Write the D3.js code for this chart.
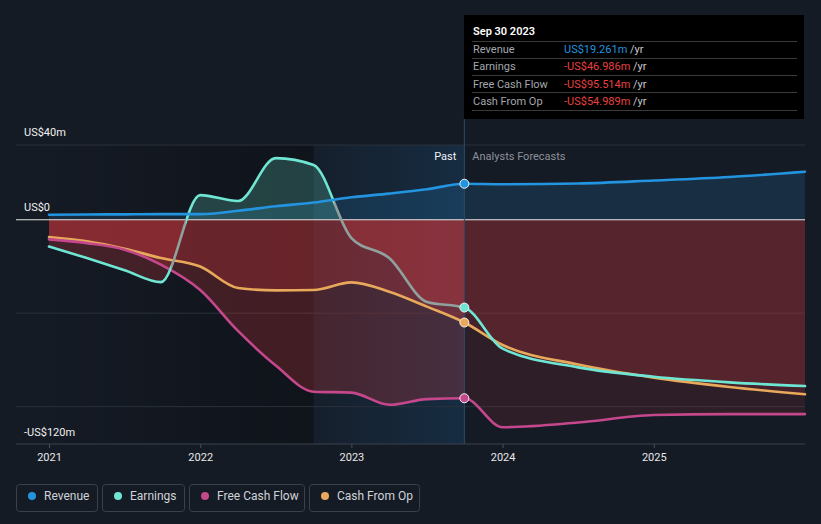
<!DOCTYPE html>
<html>
<head>
<meta charset="utf-8">
<script src="https://cdn.jsdelivr.net/npm/d3@7"></script>
<style>
  html, body { margin: 0; padding: 0; background: #151b25; }
  svg { display: block; font-family: Roboto, "Noto Sans", sans-serif; }
</style>
</head>
<body>
<svg id="chart" width="821" height="524"></svg>
<script>
// ---------- data (US$ millions) ----------
const pastDates = [2021.0, 2021.25, 2021.5, 2021.74, 2022.0, 2022.25, 2022.5, 2022.75, 2023.0, 2023.25, 2023.5, 2023.747];
const forecastDates = [2023.747, 2024.0, 2024.5, 2025.0, 2025.5, 2026.0];

const revenuePast = [2.7, 2.8, 2.9, 3.0, 3.0, 4.8, 7.2, 9.2, 12.0, 14.0, 16.3, 19.261];
const revenueForecast = [19.261, 19.0, 19.4, 21.0, 22.9, 25.7];

const earningsPast = [-14.3, -20.5, -27.0, -33.4, 13.2, 10.0, 33.0, 29.3, -9.8, -20.5, -44.0, -46.986];
const earningsForecast = [-46.986, -69.0, -79.0, -84.0, -87.0, -89.0];

const fcfPast = [-10.5, -12.5, -16.0, -24.0, -37.6, -59.5, -78.0, -92.0, -92.5, -99.0, -96.0, -95.514];
const fcfForecast = [-95.514, -111.0, -108.5, -104.5, -104.0, -104.0];

const cfoPast = [-9.2, -11.5, -15.5, -20.5, -25.0, -36.5, -37.8, -37.6, -33.5, -38.5, -46.5, -54.989];
const cfoForecast = [-54.989, -67.0, -77.5, -84.5, -89.5, -93.4];

const yearTicks = [2021, 2022, 2023, 2024, 2025];
const yLabels = [{v: 40, t: "US$40m"}, {v: 0, t: "US$0"}, {v: -120, t: "-US$120m"}];
const gridValues = [40, -50, -100];

const seriesNames = ["Revenue", "Earnings", "Free Cash Flow", "Cash From Op"];
const seriesColors = ["#2394df", "#6ee6d3", "#c5478c", "#e8a95b"];
const tooltipDate = "Sep 30 2023";
const tooltipValues = ["US$19.261m", "-US$46.986m", "-US$95.514m", "-US$54.989m"];

(function () {
// ---------- setup ----------
const svg = d3.select("#chart");
const W = 821, H = 524;
const x = d3.scaleLinear().domain([2021, 2026]).range([49, 805]);
const y = d3.scaleLinear().domain([-120, 40]).range([444, 145]);
const cLeft = 16, cRight = 805, cTop = y(40), cBottom = y(-120);
const nowX = x(2023.747);
const pastStart = x(2022.75);

const zip = (ds, vs) => ds.map((d, i) => ({d, v: vs[i]}));
const series = [
  zip(pastDates, revenuePast).concat(zip(forecastDates, revenueForecast).slice(1)),
  zip(pastDates, earningsPast).concat(zip(forecastDates, earningsForecast).slice(1)),
  zip(pastDates, fcfPast).concat(zip(forecastDates, fcfForecast).slice(1)),
  zip(pastDates, cfoPast).concat(zip(forecastDates, cfoForecast).slice(1))
];

const defs = svg.append("defs");

// background regions
const gDark = defs.append("linearGradient").attr("id", "darkGrad")
  .attr("gradientUnits", "userSpaceOnUse").attr("x1", cLeft).attr("x2", pastStart).attr("y1", 0).attr("y2", 0);
gDark.append("stop").attr("offset", 0).attr("stop-color", "#000").attr("stop-opacity", 0.0);
gDark.append("stop").attr("offset", 1).attr("stop-color", "#000").attr("stop-opacity", 0.28);

const gPast = defs.append("linearGradient").attr("id", "pastGrad")
  .attr("gradientUnits", "userSpaceOnUse").attr("x1", pastStart).attr("x2", nowX).attr("y1", 0).attr("y2", 0);
gPast.append("stop").attr("offset", 0).attr("stop-color", "#1a6aa8").attr("stop-opacity", 0.05);
gPast.append("stop").attr("offset", 1).attr("stop-color", "#1a6aa8").attr("stop-opacity", 0.22);

svg.append("rect").attr("x", cLeft).attr("y", cTop).attr("width", pastStart - cLeft).attr("height", cBottom - cTop)
  .attr("fill", "url(#darkGrad)");
svg.append("rect").attr("x", pastStart).attr("y", cTop).attr("width", nowX - pastStart).attr("height", cBottom - cTop)
  .attr("fill", "url(#pastGrad)");

// clip paths
defs.append("clipPath").attr("id", "clipPos").append("rect")
  .attr("x", 0).attr("y", 0).attr("width", W).attr("height", y(0));
defs.append("clipPath").attr("id", "clipNegPast").append("rect")
  .attr("x", 0).attr("y", y(0)).attr("width", nowX).attr("height", H);
defs.append("clipPath").attr("id", "clipNegFc").append("rect")
  .attr("x", nowX).attr("y", y(0)).attr("width", W).attr("height", H);

// grid lines
svg.append("g").selectAll("line").data(gridValues).join("line")
  .attr("x1", cLeft).attr("x2", cRight).attr("y1", d => y(d)).attr("y2", d => y(d))
  .attr("stroke", "#2b313b").attr("stroke-width", 1);

// areas
const area = d3.area().x(p => x(p.d)).y0(y(0)).y1(p => y(p.v)).curve(d3.curveMonotoneX);
const gA = svg.append("g");
series.forEach((s, i) => {
  gA.append("path").attr("d", area(s)).attr("fill", seriesColors[i]).attr("fill-opacity", i === 0 ? 0.16 : 0.22)
    .attr("clip-path", "url(#clipPos)");
  gA.append("path").attr("d", area(s)).attr("fill", "#e0393e").attr("fill-opacity", 0.24)
    .attr("clip-path", "url(#clipNegPast)");
  gA.append("path").attr("d", area(s)).attr("fill", "#c0333b").attr("fill-opacity", 0.15)
    .attr("clip-path", "url(#clipNegFc)");
});

// zero line
svg.append("line").attr("x1", cLeft).attr("x2", cRight).attr("y1", y(0)).attr("y2", y(0))
  .attr("stroke", "#e6e6e6").attr("stroke-width", 1.2);

// now line
svg.append("line").attr("x1", nowX).attr("x2", nowX).attr("y1", 119).attr("y2", cBottom)
  .attr("stroke", "#2a4d68").attr("stroke-width", 1);

// earnings stroke gradient (muted where overlapped by fills)
const eg = defs.append("linearGradient").attr("id", "earnGrad")
  .attr("gradientUnits", "userSpaceOnUse").attr("x1", x(2021)).attr("x2", x(2026)).attr("y1", 0).attr("y2", 0);
const off = v => (x(v) - x(2021)) / (x(2026) - x(2021));
const muted = "#8fa09e";
[[0, seriesColors[1]], [off(2021.81), seriesColors[1]], [off(2021.81), muted], [off(2021.905), muted],
 [off(2021.905), seriesColors[1]], [off(2022.885), seriesColors[1]], [off(2022.885), muted],
 [off(2023.745), muted], [off(2023.745), seriesColors[1]], [1, seriesColors[1]]]
  .forEach(([o, c]) => eg.append("stop").attr("offset", o).attr("stop-color", c));

// lines
const line = d3.line().x(p => x(p.d)).y(p => y(p.v)).curve(d3.curveMonotoneX);
const lineOrder = [3, 2, 1, 0];
lineOrder.forEach(i => {
  svg.append("path").attr("d", line(series[i])).attr("fill", "none")
    .attr("stroke", i === 1 ? "url(#earnGrad)" : seriesColors[i])
    .attr("stroke-width", 2.6).attr("stroke-linejoin", "round").attr("stroke-linecap", "round");
});

// dots at now
const nowVals = [revenuePast, earningsPast, fcfPast, cfoPast].map(a => a[a.length - 1]);
svg.append("g").selectAll("circle").data(nowVals).join("circle")
  .attr("cx", nowX).attr("cy", d => y(d)).attr("r", 4.5)
  .attr("fill", (d, i) => seriesColors[i]).attr("stroke", "#f2f2f2").attr("stroke-width", 1);

// Past / Analysts Forecasts
svg.append("text").attr("x", nowX - 8).attr("y", 160).attr("text-anchor", "end")
  .attr("fill", "#f0f0f0").attr("font-size", 11).text("Past");
svg.append("text").attr("x", nowX + 8).attr("y", 160).attr("text-anchor", "start")
  .attr("fill", "#8c9199").attr("font-size", 11).text("Analysts Forecasts");

// y labels
svg.append("g").selectAll("text").data(yLabels).join("text")
  .attr("x", 24).attr("y", d => d.v === 40 ? 136 : d.v === 0 ? 211 : 436)
  .attr("fill", "#f0f0f0").attr("font-size", 11).text(d => d.t);

// x axis
const xAxis = d3.axisBottom(x).tickValues(yearTicks).tickFormat(d3.format("d")).tickSize(4).tickPadding(5);
const ax = svg.append("g").attr("transform", `translate(0,${cBottom})`).call(xAxis);
ax.select(".domain").remove();
ax.selectAll(".tick line").attr("stroke", "#4a505a");
ax.selectAll(".tick text").attr("fill", "#e8e8e8").attr("font-size", 11).attr("font-family", "Roboto, sans-serif");
svg.append("line").attr("x1", cLeft).attr("x2", cRight).attr("y1", cBottom).attr("y2", cBottom)
  .attr("stroke", "#3c424c").attr("stroke-width", 1);

// tooltip
const tt = svg.append("g");
tt.append("rect").attr("x", 464).attr("y", 15).attr("width", 340).attr("height", 104).attr("fill", "#000");
tt.append("text").attr("x", 473).attr("y", 35).attr("fill", "#fff").attr("font-size", 11)
  .attr("font-weight", 600).text(tooltipDate);
[41.5, 58.5, 75.5, 92.5, 110.5].forEach(yy =>
  tt.append("line").attr("x1", 472).attr("x2", 797).attr("y1", yy).attr("y2", yy)
    .attr("stroke", "#3a3a3a").attr("stroke-width", 1));
seriesNames.forEach((n, i) => {
  const yy = 53 + i * 17.3;
  tt.append("text").attr("x", 473).attr("y", yy).attr("fill", "#a3a7ad").attr("font-size", 11).text(n);
  const t = tt.append("text").attr("x", 564).attr("y", yy).attr("font-size", 11);
  t.append("tspan").attr("fill", i === 0 ? "#2394df" : "#e8413f").text(tooltipValues[i]);
  t.append("tspan").attr("fill", "#c9c9c9").text(" /yr");
});

// legend
const legBoxes = [[16.5, 81], [102.5, 82], [189.5, 115], [309.5, 110]];
const lg = svg.append("g");
seriesNames.forEach((n, i) => {
  const [bx, bw] = legBoxes[i];
  lg.append("rect").attr("x", bx).attr("y", 484.5).attr("width", bw).attr("height", 27).attr("rx", 3)
    .attr("fill", "none").attr("stroke", "#3b404a").attr("stroke-width", 1);
  lg.append("circle").attr("cx", bx + 15.5).attr("cy", 496).attr("r", 4).attr("fill", seriesColors[i]);
  lg.append("text").attr("x", bx + 27.5).attr("y", 500).attr("fill", "#cfd3d8").attr("font-size", 12).text(n);
});
})();
</script>
</body>
</html>
